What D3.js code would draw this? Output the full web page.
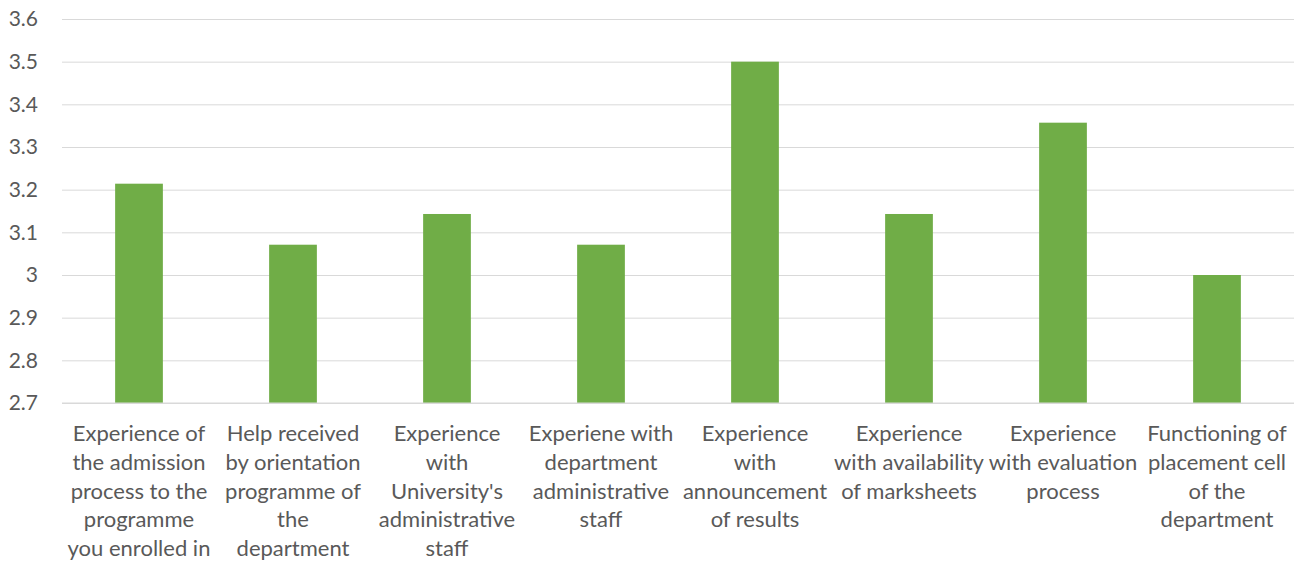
<!DOCTYPE html>
<html>
<head>
<meta charset="utf-8">
<script src="https://cdn.jsdelivr.net/npm/d3@7"></script>
<style>
  body { margin: 0; background: #fff; }
  text { font-family: Lato, "Open Sans", sans-serif; fill: #595959; }
</style>
</head>
<body>
<div id="chart"></div>
<script>
// Category labels, already broken into lines as in the original
const categoryLines = [
    ["Experience of", "the admission", "process to the", "programme", "you enrolled in"],
    ["Help received", "by orientation", "programme of", "the", "department"],
    ["Experience", "with", "University's", "administrative", "staff"],
    ["Experiene with", "department", "administrative", "staff"],
    ["Experience", "with", "announcement", "of results"],
    ["Experience", "with availability", "of marksheets"],
    ["Experience", "with evaluation", "process"],
    ["Functioning of", "placement cell", "of the", "department"]
];
const categories = categoryLines.map((d, i) => "c" + i);
const values = [3.214, 3.071, 3.143, 3.071, 3.5, 3.143, 3.357, 3.0];
const yTicks = [2.7, 2.8, 2.9, 3, 3.1, 3.2, 3.3, 3.4, 3.5, 3.6];

const width = 1294, height = 562;
const margin = {top: 19, right: 0, bottom: 159, left: 62};
const innerW = width - margin.left - margin.right;
const innerH = height - margin.top - margin.bottom;

const svg = d3.select('#chart').append('svg')
    .attr('width', width)
    .attr('height', height);

const g = svg.append('g')
    .attr('transform', `translate(${margin.left},${margin.top})`);

const x = d3.scaleBand()
    .domain(categories)
    .range([0, innerW])
    .paddingInner(0.69)
    .paddingOuter(0.345);

const y = d3.scaleLinear()
    .domain([2.7, 3.6])
    .range([innerH, 0]);

// Gridlines + tick labels
const yAxis = d3.axisLeft(y)
    .tickValues(yTicks)
    .tickSize(-innerW)
    .tickPadding(24)
    .tickFormat(d => d3.format('')(+d.toFixed(1)));

g.append('g')
    .attr('class', 'y-axis')
    .call(yAxis)
    .call(ax => ax.select('.domain').remove())
    .call(ax => ax.selectAll('line').attr('stroke', '#d9d9d9').attr('stroke-width', 1))
    .call(ax => ax.selectAll('text').attr('font-size', 21).attr('fill', '#595959'));

// Bars
g.selectAll('.bar')
    .data(values)
    .join('rect')
    .attr('class', 'bar')
    .attr('x', (d, i) => x(categories[i]))
    .attr('width', x.bandwidth())
    .attr('y', d => y(d))
    .attr('height', d => y(2.7) - y(d))
    .attr('fill', '#70ad47');

// Baseline
g.append('line')
    .attr('x1', 0).attr('x2', innerW)
    .attr('y1', y(2.7)).attr('y2', y(2.7))
    .attr('stroke', '#d9d9d9');

// Category labels
const lbl = g.selectAll('.cat-label')
    .data(categoryLines)
    .join('text')
    .attr('class', 'cat-label')
    .attr('text-anchor', 'middle')
    .attr('font-size', 22)
    .attr('transform', (d, i) => `translate(${x(categories[i]) + x.bandwidth() / 2},${innerH + 38})`);

lbl.selectAll('tspan')
    .data(d => d)
    .join('tspan')
    .attr('x', 0)
    .attr('y', (d, i) => i * 28.8)
    .text(d => d);
</script>
</body>
</html>
